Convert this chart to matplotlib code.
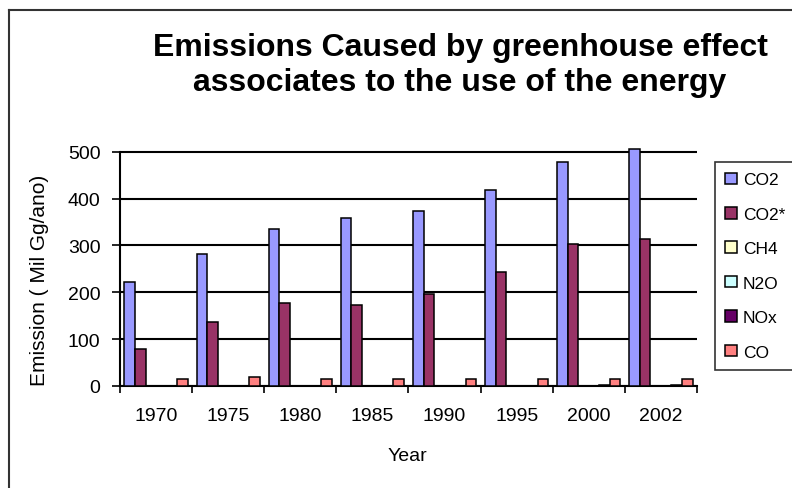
import matplotlib
matplotlib.use("Agg")
import matplotlib.pyplot as plt
from matplotlib.lines import Line2D
import numpy as np

plt.rcParams["font.family"] = ["Liberation Sans", "DejaVu Sans"]

years = ["1970", "1975", "1980", "1985", "1990", "1995", "2000", "2002"]
series = ["CO2", "CO2*", "CH4", "N2O", "NOx", "CO"]
co2 = [222, 282, 334, 358, 374, 419, 479, 505]
co2_star = [80, 136, 177, 172, 196, 243, 302, 313]
ch4 = [0, 0, 0, 0, 0, 0, 0, 0]
n2o = [0, 0, 0, 0, 0, 0, 0, 0]
nox = [0, 0, 0, 0, 0, 0, 3, 3]
co = [15, 20, 15, 15, 15, 15, 15, 15]
colors = ["#9999FF", "#993366", "#FFFFCC", "#CCFFFF", "#660066", "#FF8080"]

W, H = 792, 489
fig = plt.figure(figsize=(W / 100, H / 100), dpi=100)
ax = fig.add_axes([120 / W, 1 - 387 / H, 577 / W, 239 / H])

x = np.arange(len(years))
bw = 0.146
for i, (name, vals) in enumerate(zip(series, [co2, co2_star, ch4, n2o, nox, co])):
    ax.bar(x + (i - 2.5) * bw, vals, bw, color=colors[i], edgecolor="black",
           linewidth=1.1, label=name, zorder=3)

ax.set_xlim(-0.5, len(years) - 0.5)
ax.set_ylim(0, 510)
ax.set_yticks([0, 100, 200, 300, 400, 500])
ax.tick_params(axis="y", direction="out", length=6, width=1.2, labelsize=14, pad=8)
ax.yaxis.grid(True, color="black", linewidth=1.5, zorder=0)

ax.set_xticks(np.arange(len(years) + 1) - 0.5)
ax.set_xticklabels([])
ax.set_xticks(x, minor=True)
ax.set_xticklabels(years, minor=True, fontsize=14)
ax.tick_params(axis="x", which="major", direction="out", length=5, width=1.2)
ax.tick_params(axis="x", which="minor", length=0, pad=15)

for s in ["top", "right"]:
    ax.spines[s].set_visible(False)
ax.spines["left"].set_bounds(0, 500)
ax.spines["left"].set_linewidth(1.5)
ax.spines["bottom"].set_linewidth(1.5)

ax.set_ylabel("Emission ( Mil Gg/ano)", fontsize=15, va="center")
ax.yaxis.set_label_coords((39 - 120) / 577, 0.448)
ax.set_xlabel("Year", fontsize=14, va="center")
ax.xaxis.set_label_coords((407 - 120) / 577, (387 - 457) / 239)

fig.text(460 / W, 1 - 48 / H, "Emissions Caused by greenhouse effect",
         ha="center", va="center", fontsize=23, fontweight="bold")
fig.text(460 / W, 1 - 83 / H, "associates to the use of the energy",
         ha="center", va="center", fontsize=23, fontweight="bold")

leg = fig.legend(loc="upper left", bbox_to_anchor=(715 / W, 1 - 163 / H),
                 fontsize=12.5, frameon=True, fancybox=False, edgecolor="black",
                 labelspacing=1.12, handlelength=0.65, handleheight=0.65,
                 handletextpad=0.35, borderpad=0.6, borderaxespad=0)
leg.get_frame().set_linewidth(1.2)

# outer chart frame (cropped on right and bottom)
fig.add_artist(Line2D([9 / W, 9 / W], [0, 1 - 11 / H], color="#333333", lw=1.5))
fig.add_artist(Line2D([9 / W, 1], [1 - 11 / H, 1 - 11 / H], color="#333333", lw=1.5))

fig.savefig("out.png", dpi=100)
